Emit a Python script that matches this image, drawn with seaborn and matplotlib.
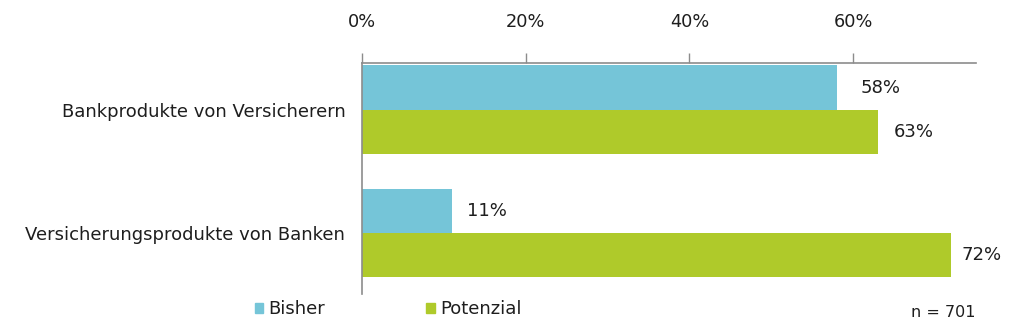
import matplotlib
matplotlib.use("Agg")
import matplotlib.pyplot as plt
import matplotlib.patches as mpatches
import seaborn as sns
import pandas as pd

# Survey shares per product type
categories = ["Bankprodukte von Versicherern", "Versicherungsprodukte von Banken"]
series_names = ["Bisher", "Potenzial"]
bisher = [0.58, 0.11]
potenzial = [0.63, 0.72]
x_ticks = [0.0, 0.2, 0.4, 0.6]
x_tick_labels = ["0%", "20%", "40%", "60%"]
sample_note = "n = 701"

colors = {"Bisher": "#75C5D8", "Potenzial": "#AFCA2A"}

df = pd.DataFrame({
    "Kategorie": categories * 2,
    "Serie": [series_names[0]] * len(categories) + [series_names[1]] * len(categories),
    "Wert": bisher + potenzial,
})

sns.set_style("white")
plt.rcParams["font.family"] = ["DejaVu Sans"]
text_color = "#1E1E1E"
axis_color = "#8C8C8C"

fig = plt.figure(figsize=(10.2, 3.3), dpi=100)
ax = fig.add_axes([0.3549, 0.1076, 0.9569 - 0.3549, 0.809 - 0.1076])

sns.barplot(data=df, x="Wert", y="Kategorie", hue="Serie", orient="h",
            palette=colors, width=0.72, ax=ax, legend=False,
            saturation=1, edgecolor="none")

ax.set_xlim(0, 0.75)
ax.set_ylim(1.5, -0.38)

# Value labels at the end of each bar (gap in data units)
label_gap = {("Bisher", 0): 0.029, ("Bisher", 1): 0.018,
             ("Potenzial", 0): 0.019, ("Potenzial", 1): 0.012}
for container, name, vals in zip(ax.containers, series_names, [bisher, potenzial]):
    for i, (bar, v) in enumerate(zip(container, vals)):
        gap = label_gap.get((name, i), 0.015)
        ax.text(v + gap, bar.get_y() + bar.get_height() / 2, f"{round(v * 100)}%",
                va="center", ha="left", fontsize=13, color=text_color)

# Percentage axis on top
ax.xaxis.tick_top()
ax.set_xticks(x_ticks)
ax.set_xticklabels(x_tick_labels)
ax.tick_params(axis="x", which="major", direction="out", length=7, width=1,
               color=axis_color, pad=16, labelsize=12.8, labelcolor=text_color)
ax.set_xlabel("")
ax.set_ylabel("")

# Category labels centred, tick marks on group boundaries
ax.set_yticks(range(len(categories)))
ax.set_yticklabels(categories)
ax.tick_params(axis="y", which="major", length=0, pad=12, labelsize=13,
               labelcolor=text_color)
ax.set_yticks([-0.38, 0.5, 1.5], minor=True)
ax.tick_params(axis="y", which="minor", direction="out", length=5, width=1,
               color=axis_color)

for side in ["right", "bottom"]:
    ax.spines[side].set_visible(False)
for side in ["top", "left"]:
    ax.spines[side].set_visible(True)
    ax.spines[side].set_color(axis_color)
    ax.spines[side].set_linewidth(1.2)

handles = [mpatches.Patch(color=colors[s], label=s) for s in series_names]
fig.legend(handles=handles, loc="center left", bbox_to_anchor=(0.25, 0.063),
           ncol=2, frameon=False, fontsize=13, handlelength=0.45, handleheight=0.45,
           handletextpad=0.3, columnspacing=5.6, labelcolor=text_color,
           borderaxespad=0, borderpad=0)

fig.text(0.956, 0.054, sample_note, ha="right", va="center", fontsize=11.5,
         color=text_color)

fig.savefig("out.png", dpi=100)
